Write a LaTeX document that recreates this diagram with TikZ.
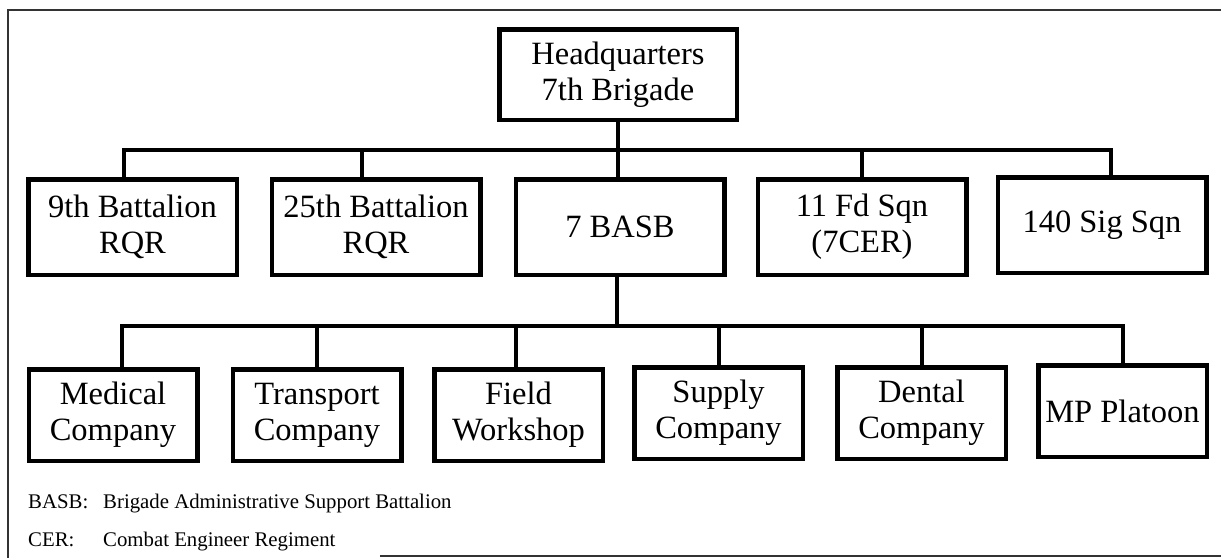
\documentclass[tikz,border=0pt]{standalone}
\usepackage{fontspec}
\setmainfont{Liberation Serif}
\begin{document}
\begin{tikzpicture}[x=1pt,y=-1pt,
  unit/.style={draw, line width=4.5pt, align=center, inner sep=0pt,
    font=\fontsize{32.5}{36}\selectfont},
  rowtwo/.style={unit, minimum width=208.5pt, minimum height=95.5pt},
  rowthree/.style={unit, minimum width=168.5pt, minimum height=91.5pt},
  conn/.style={line width=4pt, line cap=rect, line join=miter},
  frame/.style={line width=1.5pt, draw=black!80},
  legend/.style={anchor=base west, inner sep=0pt, font=\fontsize{20.8}{24}\selectfont}]
\useasboundingbox (0,0) rectangle (1221,558);

% frame
\draw[frame] (1221,10) -- (8,10) -- (8,558);
\draw[frame] (380,556) -- (1221,556);

% headquarters
\node[unit, minimum width=237.5pt, minimum height=90.5pt] (hq) at (618,74.5) {Headquarters\\7th Brigade};

% second row
\node[rowtwo] (b9) at (132.5,227) {9th Battalion\\RQR};
\node[rowtwo] (b25) at (376,227) {25th Battalion\\RQR};
\node[rowtwo] (basb) at (620,227) {7 BASB};
\node[rowtwo] (fd) at (862,227) {11 Fd Sqn\\(7CER)};
\node[rowtwo] (sig) at (1102,225) {140 Sig Sqn};

% third row
\node[rowthree] (med) at (113,415) {Medical\\Company};
\node[rowthree] (trn) at (317,415) {Transport\\Company};
\node[rowthree] (fw) at (518.5,415) {Field\\Workshop};
\node[rowthree] (sup) at (718.5,413) {Supply\\Company};
\node[rowthree] (den) at (921.5,413) {Dental\\Company};
\node[rowthree] (mp) at (1122.5,411) {MP Platoon};

% bus levels
\coordinate (bus1) at (620,150);
\coordinate (bus2) at (620,326);

% connectors level 1
\draw[conn] (hq.south) -- (hq.south |- basb.north);
\draw[conn] ([xshift=-8.5pt]b9.north) -- ([xshift=-8.5pt]b9.north |- bus1)
  -- ([xshift=9pt]sig.north |- bus1) -- ([xshift=9pt]sig.north);
\draw[conn] ([xshift=-14pt]b25.north) -- ([xshift=-14pt]b25.north |- bus1);
\draw[conn] (fd.north) -- (fd.north |- bus1);

% connectors level 2
\draw[conn] ([xshift=-3pt]basb.south) -- ([xshift=-3pt]basb.south |- bus2);
\draw[conn] ([xshift=9pt]med.north) -- ([xshift=9pt]med.north |- bus2)
  -- (mp.north |- bus2) -- (mp.north);
\draw[conn] (trn.north) -- (trn.north |- bus2);
\draw[conn] ([xshift=-3pt]fw.north) -- ([xshift=-3pt]fw.north |- bus2);
\draw[conn] (sup.north) -- (sup.north |- bus2);
\draw[conn] (den.north) -- (den.north |- bus2);

% legend
\node[legend] (l1a) at (28,508) {BASB:};
\node[legend] (l1b) at (103,508) {Brigade Administrative Support Battalion};
\node[legend] (l2a) at (28,546) {CER:};
\node[legend] (l2b) at (103,546) {Combat Engineer Regiment};
\end{tikzpicture}
\end{document}
